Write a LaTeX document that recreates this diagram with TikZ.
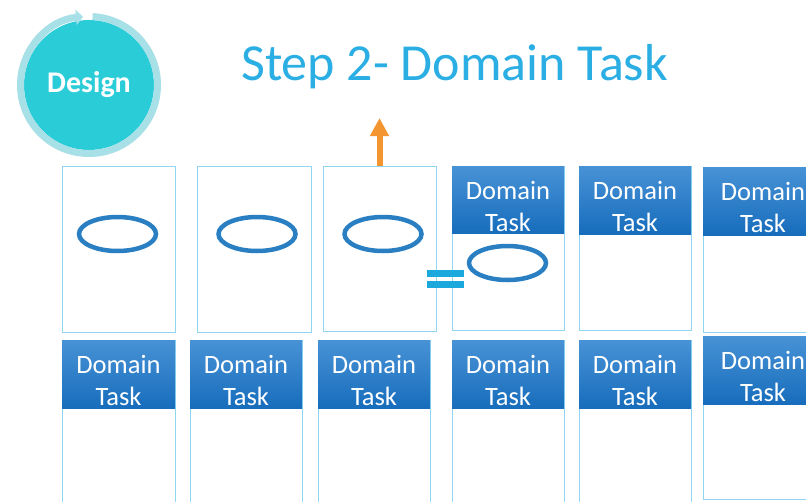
\documentclass[tikz,border=0pt]{standalone}
\usepackage{fontspec}
\setmainfont{Carlito}
\usetikzlibrary{shapes.geometric,arrows.meta}
\definecolor{framec}{HTML}{8ED6F2}
\definecolor{hdrtop}{HTML}{4892D6}
\definecolor{hdrbot}{HTML}{176DBC}
\definecolor{ovalc}{HTML}{2A7FC3}
\definecolor{titlec}{HTML}{2AAEE3}
\definecolor{ringc}{HTML}{A8E0E8}
\definecolor{discc}{HTML}{2ACCD8}
\definecolor{eqc}{HTML}{1BA8DC}
\definecolor{arrc}{HTML}{F39530}
\tikzset{
  frame/.style={draw=framec, line width=1pt, fill=white, rectangle, inner sep=0pt, outer sep=0pt},
  hdr/.style={top color=hdrtop, bottom color=hdrbot, draw=none, rectangle, inner sep=0pt, outer sep=0pt},
  hdrtext/.style={text=white, font=\fontsize{26.5}{32}\selectfont, align=center, inner sep=0pt},
  oval/.style={draw=ovalc, line width=4.5pt, ellipse, minimum width=77pt, minimum height=34pt, inner sep=0pt},
  eqbar/.style={fill=eqc, draw=none, rectangle, inner sep=0pt, minimum width=37pt, minimum height=7pt},
}
\newcommand\dtbox[6]{%
  \node[frame, anchor=north west, minimum width=#4pt, minimum height=#5pt] (#1) at (#2,#3) {};
  \node[hdr, anchor=north west, minimum width=#4pt, minimum height=#6pt] (#1h) at (#2,#3) {};
  \node[hdrtext] (#1t) at ([yshift=-40pt]#1h.north) {Domain\\Task};
}
\begin{document}
\begin{tikzpicture}[x=1pt,y=-1pt]
\clip (0,0) rectangle (806,501);
\fill[white] (0,0) rectangle (806,501);
% Design circle
\node[circle, fill=discc, minimum size=130pt, inner sep=0pt, text=white,
      font=\fontsize{30}{34}\selectfont\bfseries] (design) at (89,85) {Design};
\draw[ringc, line width=7pt, -{Triangle[length=7pt,width=15pt]}]
  ([shift={(-87:68.5)}]design.center) arc[start angle=-87, end angle=265, radius=68.5];
% title
\node[anchor=base west, inner sep=0pt, text=titlec, font=\fontsize{52}{58}\selectfont] (title) at (241,80) {Step 2- Domain Task};
% top row plain boxes
\node[frame, anchor=north west, minimum width=113pt, minimum height=166pt] (b1) at (62,166) {};
\node[frame, anchor=north west, minimum width=114pt, minimum height=166pt] (b2) at (197,166) {};
\node[frame, anchor=north west, minimum width=113pt, minimum height=165pt] (b3) at (323,166) {};
\node[oval] (o1) at (117.5,234) {};
\node[oval] (o2) at (257,234) {};
\node[oval] (o3) at (383,234) {};
% top row domain task boxes
\dtbox{b4}{452}{166}{112}{164}{67}
\dtbox{b5}{579}{166}{112}{164}{68}
\dtbox{b6}{703}{167}{120}{165}{68}
\node[oval] (o4) at (507.5,263) {};
% equals sign
\node[eqbar] (eq1) at (445.5,273.5) {};
\node[eqbar] (eq2) at (445.5,284.5) {};
% orange arrow
\coordinate (up) at (379.5,118);
\draw[arrc, line width=6pt, -{Triangle[length=18pt,width=18pt]}] (b3.north) -- (up);
% bottom row
\dtbox{c1}{62}{340}{113}{175}{68}
\dtbox{c2}{190}{340}{112}{175}{68}
\dtbox{c3}{318}{340}{112}{175}{68}
\dtbox{c4}{452}{340}{112}{175}{68}
\dtbox{c5}{579}{340}{112}{175}{68}
\dtbox{c6}{703}{336}{120}{163}{68}
\end{tikzpicture}
\end{document}
